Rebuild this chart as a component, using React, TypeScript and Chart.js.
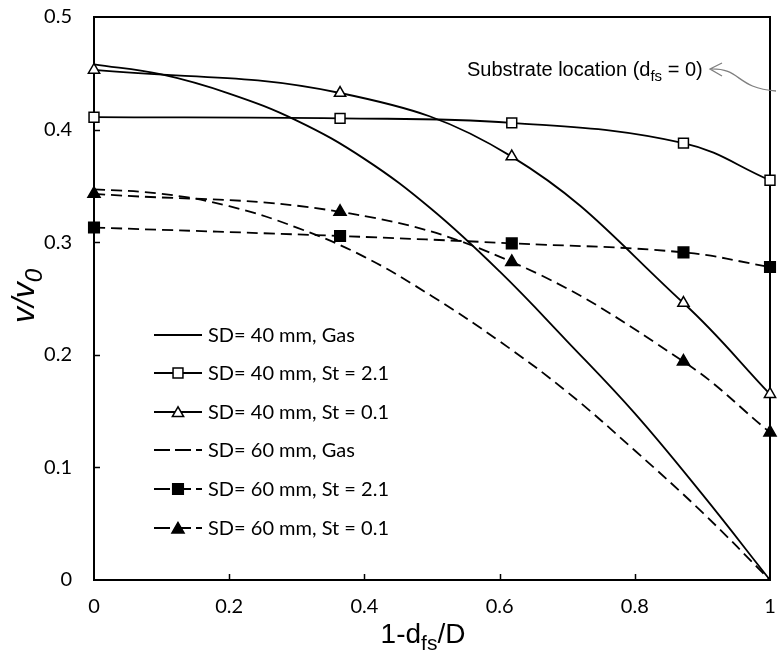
import React, { useEffect, useRef } from 'react';
import { Chart, registerables } from 'chart.js';

Chart.register(...registerables);

// ---- data ----
const markerX = [0, 0.364, 0.618, 0.872, 1];
const gasX = [0, 0.1, 0.2, 0.3, 0.4, 0.5, 0.6, 0.7, 0.8, 0.9, 1];
const sd40Gas = [0.458, 0.449, 0.432, 0.408, 0.374, 0.329, 0.274, 0.212, 0.148, 0.076, 0];
const sd40St21 = [0.411, 0.41, 0.406, 0.388, 0.355];
const sd40St01 = [0.453, 0.4325, 0.376, 0.246, 0.165];
const sd60Gas = [0.347, 0.343, 0.332, 0.313, 0.287, 0.252, 0.212, 0.167, 0.115, 0.06, 0];
const sd60St21 = [0.313, 0.3055, 0.299, 0.291, 0.278];
const sd60St01 = [0.343, 0.327, 0.2825, 0.194, 0.131];

const seriesLabels = [
  'SD= 40 mm, Gas',
  'SD= 40 mm, St = 2.1',
  'SD= 40 mm, St = 0.1',
  'SD= 60 mm, Gas',
  'SD= 60 mm, St = 2.1',
  'SD= 60 mm, St = 0.1',
];

const xTicks = [0, 0.2, 0.4, 0.6, 0.8, 1];
const xTickLabels = ['0', '0.2', '0.4', '0.6', '0.8', '1'];
const yTicks = [0, 0.1, 0.2, 0.3, 0.4, 0.5];
const yTickLabels = ['0', '0.1', '0.2', '0.3', '0.4', '0.5'];

const xTitleParts = [{ t: '1-d' }, { t: 'fs', sub: true }, { t: '/D' }];
const yTitleParts = [{ t: 'v/v' }, { t: '0', sub: true }];
const noteParts = [{ t: 'Substrate location (d' }, { t: 'fs', sub: true }, { t: ' = 0)' }];

const LEGEND_FONT = '20px Lato';
const DASH = [11, 6];

type Part = { t: string; sub?: boolean };

function drawRich(ctx: CanvasRenderingContext2D, parts: Part[], x: number, y: number, size: number, family: string, style: string, align: 'left' | 'center') {
  const mainFont = `${style} ${size}px ${family}`;
  const subSize = Math.round(size * 0.75);
  const subFont = `${style} ${subSize}px ${family}`;
  let total = 0;
  for (const p of parts) {
    ctx.font = p.sub ? subFont : mainFont;
    total += ctx.measureText(p.t).width;
  }
  let cx = align === 'center' ? x - total / 2 : x;
  ctx.textBaseline = 'alphabetic';
  ctx.textAlign = 'left';
  for (const p of parts) {
    ctx.font = p.sub ? subFont : mainFont;
    ctx.fillText(p.t, cx, p.sub ? y + size * 0.25 : y);
    cx += ctx.measureText(p.t).width;
  }
}

function drawMarker(ctx: CanvasRenderingContext2D, style: string, filled: boolean, x: number, y: number, r: number) {
  ctx.save();
  ctx.setLineDash([]);
  ctx.lineWidth = 1.5;
  ctx.strokeStyle = '#000';
  ctx.fillStyle = filled ? '#000' : '#fff';
  ctx.beginPath();
  if (style === 'rect') {
    const s = r * Math.SQRT1_2;
    ctx.rect(x - s, y - s, 2 * s, 2 * s);
  } else {
    const a = Math.PI / 2;
    for (let i = 0; i < 3; i++) {
      const ang = a + (i * 2 * Math.PI) / 3;
      const px = x + Math.cos(ang) * r;
      const py = y - Math.sin(ang) * r + r * 0.2;
      if (i === 0) ctx.moveTo(px, py);
      else ctx.lineTo(px, py);
    }
    ctx.closePath();
  }
  ctx.fill();
  ctx.stroke();
  ctx.restore();
}

const legendStyles = [
  { dash: false, marker: null as null | string, filled: false, r: 0 },
  { dash: false, marker: 'rect', filled: false, r: 7 },
  { dash: false, marker: 'triangle', filled: false, r: 6.5 },
  { dash: true, marker: null, filled: false, r: 0 },
  { dash: true, marker: 'rect', filled: true, r: 7.5 },
  { dash: true, marker: 'triangle', filled: true, r: 7 },
];

const decorPlugin = {
  id: 'decor',
  beforeDatasetsDraw(chart: any) {
    const ctx: CanvasRenderingContext2D = chart.ctx;
    const { left, right, top, bottom } = chart.chartArea;
    const xs = chart.scales.x;
    const ys = chart.scales.y;
    ctx.save();
    ctx.strokeStyle = '#000';
    ctx.lineWidth = 2;
    ctx.strokeRect(left, top, right - left, bottom - top);
    ctx.lineWidth = 1.5;
    ctx.beginPath();
    for (const v of xTicks.slice(1, -1)) {
      const px = Math.round(xs.getPixelForValue(v)) + 0.5;
      ctx.moveTo(px, bottom);
      ctx.lineTo(px, bottom - 6);
    }
    for (const v of yTicks.slice(1, -1)) {
      const py = Math.round(ys.getPixelForValue(v)) + 0.5;
      ctx.moveTo(left, py);
      ctx.lineTo(left + 6, py);
    }
    ctx.stroke();
    ctx.restore();
  },
  afterDraw(chart: any) {
    const ctx: CanvasRenderingContext2D = chart.ctx;
    ctx.save();
    ctx.fillStyle = '#000';
    // axis titles
    drawRich(ctx, xTitleParts, 423, 643, 28, '"Liberation Sans"', 'normal', 'center');
    ctx.save();
    ctx.translate(34, 296);
    ctx.rotate(-Math.PI / 2);
    drawRich(ctx, yTitleParts, 0, 0, 32, '"Liberation Sans"', 'italic', 'center');
    ctx.restore();
    // annotation
    drawRich(ctx, noteParts, 467, 76, 20, '"Liberation Sans"', 'normal', 'left');
    ctx.strokeStyle = '#7f7f7f';
    ctx.lineWidth = 1.3;
    ctx.beginPath();
    ctx.moveTo(722, 63);
    ctx.lineTo(710, 69);
    ctx.lineTo(722, 76);
    ctx.moveTo(710, 69);
    ctx.bezierCurveTo(742, 68, 735, 88, 776, 91);
    ctx.stroke();
    // legend
    const rows = [335, 373, 412, 450, 489, 528];
    for (let i = 0; i < seriesLabels.length; i++) {
      const st = legendStyles[i];
      const y = rows[i];
      ctx.save();
      ctx.strokeStyle = '#000';
      ctx.lineWidth = 1.8;
      ctx.setLineDash(st.dash ? [16, 5] : []);
      ctx.beginPath();
      ctx.moveTo(154, y);
      ctx.lineTo(202, y);
      ctx.stroke();
      ctx.restore();
      if (st.marker) drawMarker(ctx, st.marker, st.filled, 178, y, st.r);
      ctx.fillStyle = '#000';
      ctx.font = LEGEND_FONT;
      ctx.textAlign = 'left';
      ctx.textBaseline = 'middle';
      ctx.fillText(seriesLabels[i], 208, y + 1);
    }
    ctx.restore();
  },
};

function pts(xs: number[], ys: number[]) {
  return xs.map((x, i) => ({ x, y: ys[i] }));
}

export default function App() {
  const ref = useRef<HTMLCanvasElement | null>(null);
  useEffect(() => {
    if (!ref.current) return;
    const base = {
      borderColor: '#000',
      borderWidth: 1.8,
      tension: 0.4,
      clip: false as any,
      pointBorderColor: '#000',
      pointBorderWidth: 1.5,
      showLine: true,
    };
    const chart = new Chart(ref.current, {
      type: 'scatter',
      data: {
        datasets: [
          { ...base, label: seriesLabels[0], data: pts(gasX, sd40Gas), pointRadius: 0 },
          { ...base, label: seriesLabels[1], data: pts(markerX, sd40St21), pointStyle: 'rect', pointRadius: 7, pointBackgroundColor: '#fff' },
          { ...base, label: seriesLabels[2], data: pts(markerX, sd40St01), pointStyle: 'triangle', pointRadius: 6.5, pointBackgroundColor: '#fff' },
          { ...base, label: seriesLabels[3], data: pts(gasX, sd60Gas), pointRadius: 0, borderDash: DASH },
          { ...base, label: seriesLabels[4], data: pts(markerX, sd60St21), pointStyle: 'rect', pointRadius: 7.5, pointBackgroundColor: '#000', borderDash: DASH },
          { ...base, label: seriesLabels[5], data: pts(markerX, sd60St01), pointStyle: 'triangle', pointRadius: 7, pointBackgroundColor: '#000', borderDash: DASH },
        ],
      },
      options: {
        animation: false,
        responsive: false,
        devicePixelRatio: 1,
        layout: { padding: { top: 17, right: 4, left: 0, bottom: 0 } },
        plugins: { legend: { display: false }, tooltip: { enabled: false } },
        scales: {
          x: {
            type: 'linear',
            min: 0,
            max: 1,
            afterBuildTicks: (s: any) => { s.ticks = xTicks.map((v) => ({ value: v })); },
            afterFit: (s: any) => { s.height = 73; s.paddingLeft = 0; s.paddingRight = 0; },
            ticks: {
              callback: (_v: any, i: number) => xTickLabels[i],
              font: { family: 'Lato', size: 20 },
              color: '#000',
              padding: 15,
              maxRotation: 0,
              autoSkip: false,
            },
            grid: { display: false, drawTicks: false },
            border: { display: false },
          },
          y: {
            type: 'linear',
            min: 0,
            max: 0.5,
            afterBuildTicks: (s: any) => { s.ticks = yTicks.map((v) => ({ value: v })); },
            afterFit: (s: any) => { s.width = 94; s.paddingTop = 0; s.paddingBottom = 0; },
            ticks: {
              callback: (_v: any, i: number) => yTickLabels[i],
              font: { family: 'Lato', size: 20 },
              color: '#000',
              padding: 22,
              autoSkip: false,
            },
            grid: { display: false, drawTicks: false },
            border: { display: false },
          },
        },
      } as any,
      plugins: [decorPlugin],
    });
    return () => chart.destroy();
  }, []);
  return (
    <div style={{ position: 'absolute', left: 0, top: 0, width: 779, height: 653, background: '#fff' }}>
      <canvas ref={ref} width={779} height={653} style={{ display: 'block' }} />
    </div>
  );
}
